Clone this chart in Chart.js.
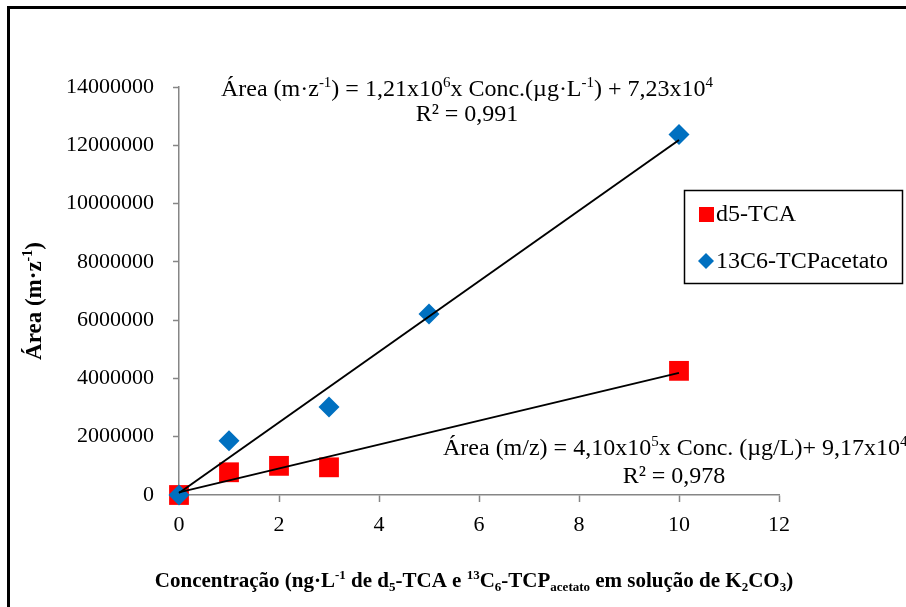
<!DOCTYPE html>
<html lang="pt-br">
<head>
    <meta charset="UTF-8">
    <title>Curva de calibração</title>
    <script src="https://cdn.jsdelivr.net/npm/chart.js"></script>
    <style>
        html, body { margin: 0; padding: 0; background: #fff; }
        #grafico { display: block; }
    </style>
</head>
<body>
    <canvas id="grafico" width="906" height="607"></canvas>

    <script>
        // dados
        const concD5 = [0, 1, 2, 3, 10];
        const areaD5 = [0, 780000, 1000000, 950000, 4260000];
        const concTcp = [0, 1, 3, 5, 10];
        const areaTcp = [0, 1860000, 3020000, 6210000, 12370000];

        // linhas de tendência (extremos)
        const trendX = [0, 10];
        const trendD5 = [90000, 4190000];
        const trendTcp = [70000, 12180000];

        const xTicks = [0, 2, 4, 6, 8, 10, 12];
        const yTicks = [0, 2000000, 4000000, 6000000, 8000000, 10000000, 12000000, 14000000];

        const nomesSeries = ['d5-TCA', '13C6-TCPacetato'];

        // textos com sobrescrito / subscrito
        const eqTcp = [['Área (m·z'], ['-1', 'sup'], [') = 1,21x10'], ['6', 'sup'], ['x Conc.(µg·L'], ['-1', 'sup'], [') + 7,23x10'], ['4', 'sup']];
        const r2Tcp = [['R² = 0,991']];
        const eqD5 = [['Área (m/z) = 4,10x10'], ['5', 'sup'], ['x Conc. (µg/L)+ 9,17x10'], ['4', 'sup']];
        const r2D5 = [['R² = 0,978']];
        const tituloX = [['Concentração (ng·L'], ['-1', 'sup'], [' de d'], ['5', 'sub'], ['-TCA e '], ['13', 'sup'], ['C'], ['6', 'sub'], ['-TCP'], ['acetato', 'sub'], [' em solução de K'], ['2', 'sub'], ['CO'], ['3', 'sub'], [')']];
        const tituloY = [['Área (m·z'], ['-1', 'sup'], [')']];

        const serif = '"Liberation Serif", "Times New Roman", serif';
        const cinza = '#868686';
        const vermelho = '#FF0000';
        const azul = '#0070C0';

        function toPoints(xs, ys) {
            return xs.map((x, i) => ({ x: x, y: ys[i] }));
        }

        function fonte(size, bold) {
            return (bold ? 'bold ' : '') + size + 'px ' + serif;
        }

        function drawRich(ctx, segs, x, y, size, bold, align) {
            const small = Math.round(size * 0.62);
            let w = 0;
            segs.forEach(s => {
                ctx.font = fonte(s[1] ? small : size, bold);
                w += ctx.measureText(s[0]).width;
            });
            let cx = align === 'center' ? x - w / 2 : x;
            ctx.textAlign = 'left';
            ctx.textBaseline = 'alphabetic';
            ctx.fillStyle = '#000';
            segs.forEach(s => {
                ctx.font = fonte(s[1] ? small : size, bold);
                let dy = 0;
                if (s[1] === 'sup') dy = -size * 0.38;
                if (s[1] === 'sub') dy = size * 0.18;
                ctx.fillText(s[0], cx, y + dy);
                cx += ctx.measureText(s[0]).width;
            });
        }

        const extras = {
            id: 'extras',
            afterDraw(chart) {
                const ctx = chart.ctx;
                ctx.save();

                // moldura
                ctx.fillStyle = '#000';
                ctx.fillRect(7, 6, 3, 601);
                ctx.fillRect(7, 6, 899, 3);

                // equações
                drawRich(ctx, eqTcp, 467, 96, 24, false, 'center');
                drawRich(ctx, r2Tcp, 467, 121, 24, false, 'center');
                drawRich(ctx, eqD5, 443, 455, 24, false, 'left');
                drawRich(ctx, r2D5, 674, 483, 24, false, 'center');

                // títulos dos eixos
                drawRich(ctx, tituloX, 474, 587, 21, true, 'center');
                ctx.save();
                ctx.translate(41, 301);
                ctx.rotate(-Math.PI / 2);
                drawRich(ctx, tituloY, 0, 0, 23, true, 'center');
                ctx.restore();

                // legenda
                ctx.fillStyle = '#fff';
                ctx.fillRect(684, 190, 219, 94);
                ctx.strokeStyle = '#000';
                ctx.lineWidth = 1.5;
                ctx.strokeRect(684.5, 190.5, 218, 93);
                ctx.fillStyle = vermelho;
                ctx.fillRect(699, 207, 15, 15);
                ctx.fillStyle = azul;
                ctx.beginPath();
                ctx.moveTo(706, 253);
                ctx.lineTo(714, 261);
                ctx.lineTo(706, 269);
                ctx.lineTo(698, 261);
                ctx.closePath();
                ctx.fill();
                ctx.fillStyle = '#000';
                ctx.font = fonte(24, false);
                ctx.textAlign = 'left';
                ctx.textBaseline = 'middle';
                ctx.fillText(nomesSeries[0], 716, 215);
                ctx.fillText(nomesSeries[1], 716, 262);

                ctx.restore();
            }
        };

        new Chart(document.getElementById('grafico'), {
            type: 'scatter',
            data: {
                datasets: [
                    {
                        label: 'tendência TCP',
                        type: 'line',
                        data: toPoints(trendX, trendTcp),
                        borderColor: '#000',
                        borderWidth: 2,
                        pointRadius: 0,
                        fill: false,
                        clip: false,
                        order: 1
                    },
                    {
                        label: 'tendência d5',
                        type: 'line',
                        data: toPoints(trendX, trendD5),
                        borderColor: '#000',
                        borderWidth: 2,
                        pointRadius: 0,
                        fill: false,
                        clip: false,
                        order: 1
                    },
                    {
                        label: nomesSeries[1],
                        data: toPoints(concTcp, areaTcp),
                        pointStyle: 'rectRot',
                        pointRadius: 10.5,
                        pointHoverRadius: 10.5,
                        backgroundColor: azul,
                        borderWidth: 0,
                        clip: false,
                        order: 2
                    },
                    {
                        label: nomesSeries[0],
                        data: toPoints(concD5, areaD5),
                        pointStyle: 'rect',
                        pointRadius: 14,
                        pointHoverRadius: 14,
                        backgroundColor: vermelho,
                        borderWidth: 0,
                        clip: false,
                        order: 3
                    }
                ]
            },
            options: {
                responsive: false,
                animation: false,
                events: [],
                layout: { padding: { top: 87, right: 127, bottom: 0, left: 0 } },
                plugins: {
                    legend: { display: false },
                    tooltip: { enabled: false }
                },
                scales: {
                    x: {
                        type: 'linear',
                        min: xTicks[0],
                        max: xTicks[xTicks.length - 1],
                        afterBuildTicks: s => { s.ticks = xTicks.map(v => ({ value: v })); },
                        afterFit: s => { s.height = 112; },
                        border: { color: cinza, width: 1.5 },
                        grid: { drawOnChartArea: false, tickLength: 7, color: cinza, tickWidth: 1.5 },
                        ticks: { color: '#000', font: { family: serif, size: 22 }, padding: 10 }
                    },
                    y: {
                        min: yTicks[0],
                        max: yTicks[yTicks.length - 1],
                        afterBuildTicks: s => { s.ticks = yTicks.map(v => ({ value: v })); },
                        afterFit: s => { s.width = 179; },
                        border: { color: cinza, width: 1.5 },
                        grid: { drawOnChartArea: false, tickLength: 6, color: cinza, tickWidth: 1.5 },
                        ticks: {
                            color: '#000',
                            font: { family: serif, size: 22 },
                            padding: 19,
                            callback: v => String(v)
                        }
                    }
                }
            },
            plugins: [extras]
        });
    </script>
</body>
</html>
